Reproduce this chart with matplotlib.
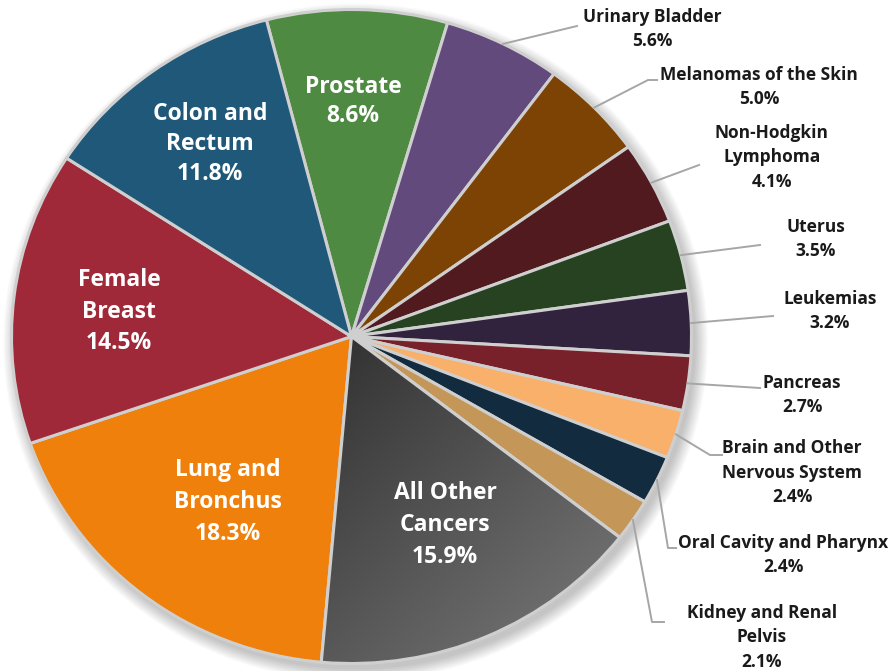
import numpy as np
import matplotlib
matplotlib.use('Agg')
import matplotlib.pyplot as plt
from matplotlib.patches import Ellipse, Wedge
from matplotlib.colors import LinearSegmentedColormap

# Data (clockwise from the top)
sites = ['Prostate', 'Urinary Bladder', 'Melanomas of the Skin', 'Non-Hodgkin\nLymphoma',
         'Uterus', 'Leukemias', 'Pancreas', 'Brain and Other\nNervous System',
         'Oral Cavity and Pharynx', 'Kidney and Renal\nPelvis', 'All Other\nCancers',
         'Lung and\nBronchus', 'Female\nBreast', 'Colon and\nRectum']
percents = [8.6, 5.6, 5.0, 4.1, 3.5, 3.2, 2.7, 2.4, 2.4, 2.1, 15.9, 18.3, 14.5, 11.8]
colors = ['#4e8a42', '#624a7d', '#7c4304', '#511a1f', '#274221', '#31223e', '#78212b',
          '#f8b06b', '#122b3e', '#c49758', '#3a3a3a', '#ef800c', '#9f2938', '#1f5879']

plt.rcParams['font.family'] = ['Open Sans', 'DejaVu Sans']

# pixel geometry of the pie (slightly elliptical in the reference)
CX, CY, RX, RY = 351.5, 336.5, 340, 327


def px(x, y):
    return (x - CX) / RX, (CY - y) / RY


fig = plt.figure(figsize=(8.88, 6.71), dpi=100)
ax = fig.add_axes([0, 0, 1, 1])

# soft shadow
for i in range(10):
    ax.add_patch(Ellipse((0.012, -0.018), 2 * (1.0 + 0.004 * i), 2 * (1.0 + 0.004 * i),
                         facecolor='#000000', edgecolor='none', alpha=0.025, zorder=0))

wedges, _ = ax.pie(percents, colors=colors, startangle=104.5, counterclock=False,
                   radius=1, center=(0, 0), frame=True,
                   wedgeprops=dict(edgecolor='#cfcfcf', linewidth=2.2))

# gradient for "All Other Cancers" (dark near the centre, lighter to the lower right)
w = wedges[10]
cmap = LinearSegmentedColormap.from_list('g', ['#2c2c2c', '#7e7e7e'])
gx, gy = np.meshgrid(np.linspace(0, 1, 200), np.linspace(0, 1, 200))
grad = (gx + gy) / 2
im = ax.imshow(grad, cmap=cmap, extent=(-0.2, 0.85, -1.02, 0.0), origin='upper',
               aspect='auto', zorder=1.5)
im.set_clip_path(w)
ax.add_patch(Wedge((0, 0), 1, w.theta1, w.theta2, facecolor='none',
                   edgecolor='#cfcfcf', linewidth=2.2, zorder=2))

# inside labels: (first line x, y, line step) in pixels
inside = {0: (353, 87, 29), 10: (445, 493, 32), 11: (228, 470, 32),
          12: (119, 280, 31.5), 13: (210, 114, 30)}
for i, (x, y, step) in inside.items():
    lines = sites[i].split('\n') + [f'{percents[i]:.1f}%']
    for k, t in enumerate(lines):
        ax.text(*px(x, y + k * step), t, color='white', fontsize=16.5,
                fontweight='bold', ha='center', va='center', zorder=5)

# outside labels: text center x, first line y, leader line points after the pie edge
outside = {
    1: (652, 17, [(577, 26)]),
    2: (759, 75, [(648, 80), (657, 80)]),
    3: (772, 133, [(699, 165)]),
    4: (816, 227, [(760, 245)]),
    5: (830, 299, [(773, 316)]),
    6: (802, 383, [(760, 388)]),
    7: (792, 448, [(710, 455), (722, 455)]),
    8: (783, 543, [(668, 548), (676, 548)]),
    9: (762, 613, [(652, 622), (664, 622)]),
}
for i, (x, y, pts) in outside.items():
    lines = sites[i].split('\n') + [f'{percents[i]:.1f}%']
    for k, t in enumerate(lines):
        ax.text(*px(x, y + k * 24.5), t, color='#1a1a1a', fontsize=12.5,
                fontweight='bold', ha='center', va='center', zorder=5)
    mid = np.deg2rad((wedges[i].theta1 + wedges[i].theta2) / 2)
    xs = [np.cos(mid)] + [px(*p)[0] for p in pts]
    ys = [np.sin(mid)] + [px(*p)[1] for p in pts]
    ax.plot(xs, ys, color='#a6a6a6', linewidth=1.4, zorder=4)

ax.set_xlim(px(0, 0)[0], px(888, 0)[0])
ax.set_ylim(px(0, 671)[1], px(0, 0)[1])
ax.set_aspect('auto')
ax.axis('off')

fig.savefig('out.png', dpi=100, facecolor='white')
